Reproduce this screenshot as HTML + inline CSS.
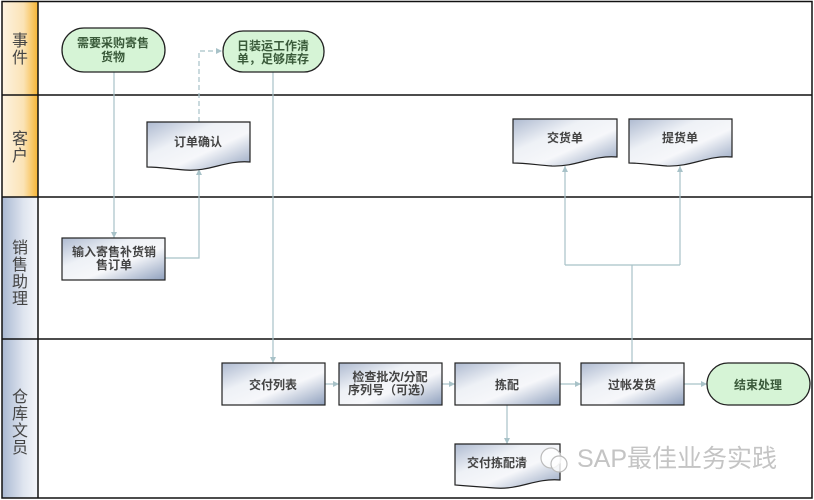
<!DOCTYPE html>
<html><head><meta charset="utf-8"><style>
html,body{margin:0;padding:0;background:#fff;}
svg{display:block;}
text{font-family:"Liberation Sans","Noto Sans CJK SC",sans-serif;}
</style></head><body>
<svg width="814" height="500" viewBox="0 0 814 500" xmlns="http://www.w3.org/2000/svg">
<defs>
<linearGradient id="hOr" x1="0" y1="0" x2="1" y2="0">
<stop offset="0" stop-color="#fdf3e2"/><stop offset="0.6" stop-color="#fbe3b5"/><stop offset="1" stop-color="#f7b532"/></linearGradient>
<linearGradient id="hBl" x1="0" y1="0" x2="1" y2="0">
<stop offset="0" stop-color="#a9b8d2"/><stop offset="0.6" stop-color="#dfe5ef"/><stop offset="1" stop-color="#f4f6fa"/></linearGradient>
<linearGradient id="box" x1="0" y1="0" x2="1" y2="1">
<stop offset="0" stop-color="#aebad0"/><stop offset="0.35" stop-color="#eef1f6"/><stop offset="0.6" stop-color="#f6f7fa"/><stop offset="1" stop-color="#8fa0bd"/></linearGradient>
<marker id="ar" markerWidth="8" markerHeight="8" refX="6" refY="3" orient="auto" markerUnits="userSpaceOnUse">
<path d="M0,0 L6,3 L0,6 z" fill="#a8c2c8"/></marker>
</defs>
<rect x="2" y="1" width="36" height="94" fill="url(#hOr)"/>
<rect x="2" y="95" width="36" height="102" fill="url(#hOr)"/>
<rect x="2" y="197" width="36" height="142" fill="url(#hBl)"/>
<rect x="2" y="339" width="36" height="159" fill="url(#hBl)"/>
<g stroke="#111" stroke-width="1.5" fill="none">
<rect x="2" y="1.5" width="810" height="496.5"/>
<line x1="38" y1="1" x2="38" y2="498"/>
<line x1="2" y1="95" x2="812" y2="95"/>
<line x1="2" y1="197" x2="812" y2="197"/>
<line x1="2" y1="339" x2="812" y2="339"/>
</g>
<g font-size="16" fill="#444" text-anchor="middle">
<text x="20" y="46">事</text><text x="20" y="63">件</text>
<text x="20" y="144">客</text><text x="20" y="161">户</text>
<text x="20" y="253">销</text><text x="20" y="270">售</text><text x="20" y="287">助</text><text x="20" y="304">理</text>
<text x="20" y="402">仓</text><text x="20" y="419">库</text><text x="20" y="436">文</text><text x="20" y="453">员</text>
</g>
<g stroke="#a8c2c8" stroke-width="1.2" fill="none">
<path d="M114,72 V238" marker-end="url(#ar)"/>
<path d="M165,258 H199 V169" marker-end="url(#ar)"/>
<path d="M199,122 V51 H222" stroke-dasharray="5,3" marker-end="url(#ar)"/>
<path d="M273,72 V363" marker-end="url(#ar)"/>
<path d="M325,384 H339" marker-end="url(#ar)"/>
<path d="M442,384 H455" marker-end="url(#ar)"/>
<path d="M560,384 H581" marker-end="url(#ar)"/>
<path d="M684,384 H707" marker-end="url(#ar)"/>
<path d="M507,405 V444" marker-end="url(#ar)"/>
<path d="M632,363 V265"/>
<path d="M565,265 H680"/>
<path d="M565,265 V166" marker-end="url(#ar)"/>
<path d="M680,265 V166" marker-end="url(#ar)"/>
</g>
<g stroke="#222" stroke-width="1.3" fill="#d6f4d6">
<rect x="62" y="28" width="103" height="44" rx="22"/>
<rect x="223" y="31" width="101" height="41" rx="20"/>
<rect x="707" y="363" width="103" height="42" rx="21"/>
</g>
<g stroke="#222" stroke-width="1.2" fill="url(#box)">
<rect x="62" y="238" width="103" height="42"/>
<rect x="222" y="363" width="103" height="42"/>
<rect x="339" y="363" width="103" height="42"/>
<rect x="455" y="363" width="105" height="42"/>
<rect x="581" y="363" width="103" height="42"/>
<path d="M147,122 H250 V162 C225,160 210,172 185,170 C170,169 160,167 147,167 Z"/>
<path d="M513,119 H617 V157 C592,155 577,167 552,166 C537,165 526,163 513,163 Z"/>
<path d="M629,119 H732 V157 C707,155 692,167 667,166 C652,165 641,163 629,163 Z"/>
<path d="M455,444 H560 V480 C535,478 520,490 495,488 C480,487 468,486 455,485 Z"/>
</g>
<g font-size="12" fill="#444" text-anchor="middle" font-weight="bold">
<text x="113" y="47" fill="#3a5a3a">需要采购寄售</text><text x="113" y="61" fill="#3a5a3a">货物</text>
<text x="273" y="50" fill="#3a5a3a">日装运工作清</text><text x="273" y="63" fill="#3a5a3a">单，足够库存</text>
<text x="198" y="146">订单确认</text>
<text x="565" y="142">交货单</text>
<text x="680" y="142">提货单</text>
<text x="114" y="256">输入寄售补货销</text><text x="114" y="269">售订单</text>
<text x="273" y="389">交付列表</text>
<text x="390" y="381">检查批次/分配</text><text x="390" y="394">序列号（可选）</text>
<text x="507" y="389">拣配</text>
<text x="632" y="389">过帐发货</text>
<text x="758" y="389" fill="#3a5a3a">结束处理</text>
<text x="467" y="467" text-anchor="start">交付拣配清</text>
</g>
<circle cx="551" cy="458" r="10" fill="#fff" fill-opacity="0.8" stroke="#bbb" stroke-width="1.2"/>
<circle cx="559" cy="464" r="8" fill="#fff" fill-opacity="0.8" stroke="#bbb" stroke-width="1.2"/>
<text x="577" y="467" font-size="25" fill="#c4c4c4">SAP最佳业务实践</text>
</svg>
</body></html>
